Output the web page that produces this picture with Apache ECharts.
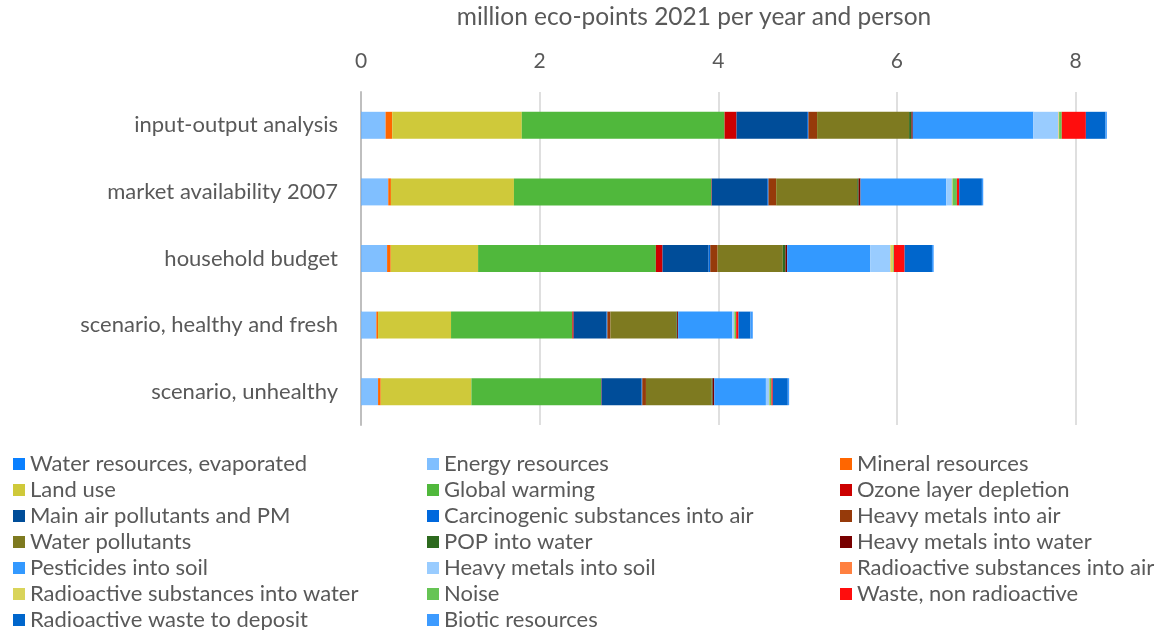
<!DOCTYPE html>
<html>
<head>
<meta charset="utf-8">
<script src="https://cdn.jsdelivr.net/npm/echarts@6/dist/echarts.min.js"></script>
<style>
  html, body { margin: 0; padding: 0; background: #ffffff; }
  #chart { width: 1162px; height: 630px; }
</style>
</head>
<body>
<div id="chart"></div>
<script>
// Environmental impact per person, by scenario (million eco-points 2021 per year)
const categories = [
  'input-output analysis',
  'market availability 2007',
  'household budget',
  'scenario, healthy and fresh',
  'scenario, unhealthy'
];
const xTicks = [0, 2, 4, 6, 8];

const waterResources   = [0.005, 0.005, 0.005, 0.004, 0.004];
const energyResources  = [0.270, 0.300, 0.287, 0.168, 0.187];
const mineralResources = [0.075, 0.030, 0.041, 0.019, 0.030];
const landUse          = [1.450, 1.377, 0.978, 0.817, 1.015];
const globalWarming    = [2.270, 2.210, 1.990, 1.358, 1.452];
const ozoneDepletion   = [0.134, 0.005, 0.075, 0.015, 0.005];
const mainAirPM        = [0.790, 0.620, 0.515, 0.366, 0.448];
const carcinogenicAir  = [0.015, 0.015, 0.019, 0.011, 0.008];
const heavyMetalsAir   = [0.097, 0.086, 0.082, 0.034, 0.041];
const waterPollutants  = [1.030, 0.907, 0.730, 0.739, 0.735];
const popWater         = [0.026, 0.015, 0.030, 0.008, 0.011];
const heavyMetalsWater = [0.015, 0.022, 0.019, 0.012, 0.019];
const pesticidesSoil   = [1.350, 0.960, 0.930, 0.605, 0.578];
const heavyMetalsSoil  = [0.280, 0.063, 0.224, 0.019, 0.034];
const radioactiveAir   = [0.003, 0.003, 0.003, 0.002, 0.002];
const radioactiveWater = [0.005, 0.005, 0.030, 0.004, 0.004];
const noise            = [0.030, 0.048, 0.008, 0.019, 0.022];
const wasteNonRadio    = [0.270, 0.026, 0.120, 0.026, 0.015];
const radioactiveWaste = [0.220, 0.254, 0.306, 0.134, 0.168];
const bioticResources  = [0.015, 0.015, 0.019, 0.026, 0.015];

const seriesDefs = [
  ['Water resources, evaporated',       waterResources,   '#0a80ff'],
  ['Energy resources',                  energyResources,  '#80bfff'],
  ['Mineral resources',                 mineralResources, '#ff6600'],
  ['Land use',                          landUse,          '#cfc93a'],
  ['Global warming',                    globalWarming,    '#50b83c'],
  ['Ozone layer depletion',             ozoneDepletion,   '#cc0000'],
  ['Main air pollutants and PM',        mainAirPM,        '#004d99'],
  ['Carcinogenic substances into air',  carcinogenicAir,  '#0068dd'],
  ['Heavy metals into air',             heavyMetalsAir,   '#963a0a'],
  ['Water pollutants',                  waterPollutants,  '#7e7a20'],
  ['POP into water',                    popWater,         '#2d6a1e'],
  ['Heavy metals into water',           heavyMetalsWater, '#780000'],
  ['Pesticides into soil',              pesticidesSoil,   '#3399ff'],
  ['Heavy metals into soil',            heavyMetalsSoil,  '#99ccff'],
  ['Radioactive substances into air',   radioactiveAir,   '#ff8040'],
  ['Radioactive substances into water', radioactiveWater, '#d9d45a'],
  ['Noise',                             noise,            '#66c454'],
  ['Waste, non radioactive',            wasteNonRadio,    '#ff0d0d'],
  ['Radioactive waste to deposit',      radioactiveWaste, '#0066cc'],
  ['Biotic resources',                  bioticResources,  '#3d9bff']
];

const FONT = 'Lato';
const TEXT = '#595959';

const series = seriesDefs.map(([name, values, color]) => ({
  name: name,
  type: 'bar',
  stack: 'total',
  barWidth: 27,
  clip: false,
  data: values,
  itemStyle: { color: color },
  emphasis: { disabled: true }
}));

// legend laid out in three columns, filled row by row
const names = seriesDefs.map(d => d[0]);
const columns = [0, 1, 2].map(c => names.filter((_, i) => i % 3 === c));
const columnLeft = [13, 427, 840];
const legends = columns.map((col, c) => ({
  data: col,
  orient: 'vertical',
  left: columnLeft[c],
  top: 451,
  height: 200,
  padding: 0,
  icon: 'rect',
  itemWidth: 12,
  itemHeight: 12,
  itemGap: 0,
  textStyle: { fontFamily: FONT, fontSize: 22, color: TEXT, lineHeight: 26 }
}));

const chart = echarts.init(document.getElementById('chart'), null, { renderer: 'canvas' });
chart.setOption({
  animation: false,
  backgroundColor: '#ffffff',
  title: {
    text: 'million eco-points 2021 per year and person',
    left: 694,
    textAlign: 'center',
    top: 5,
    padding: 0,
    textStyle: { fontFamily: FONT, fontSize: 24.5, fontWeight: 'normal', color: TEXT }
  },
  legend: legends,
  grid: { left: 361, top: 92, width: 714.6, height: 333, containLabel: false },
  xAxis: {
    type: 'value',
    position: 'top',
    min: xTicks[0],
    max: xTicks[xTicks.length - 1],
    interval: 2,
    axisLine: { show: false },
    axisTick: { show: false },
    axisLabel: { fontFamily: FONT, fontSize: 21, color: TEXT, margin: 20 },
    splitLine: { show: true, lineStyle: { color: '#d4d4d4', width: 1.5 } }
  },
  yAxis: {
    type: 'category',
    data: categories,
    inverse: true,
    axisLine: { show: true, lineStyle: { color: '#bfbfbf', width: 2 } },
    axisTick: { show: false },
    axisLabel: { fontFamily: FONT, fontSize: 22, color: TEXT, margin: 23 }
  },
  series: series
});
</script>
</body>
</html>
